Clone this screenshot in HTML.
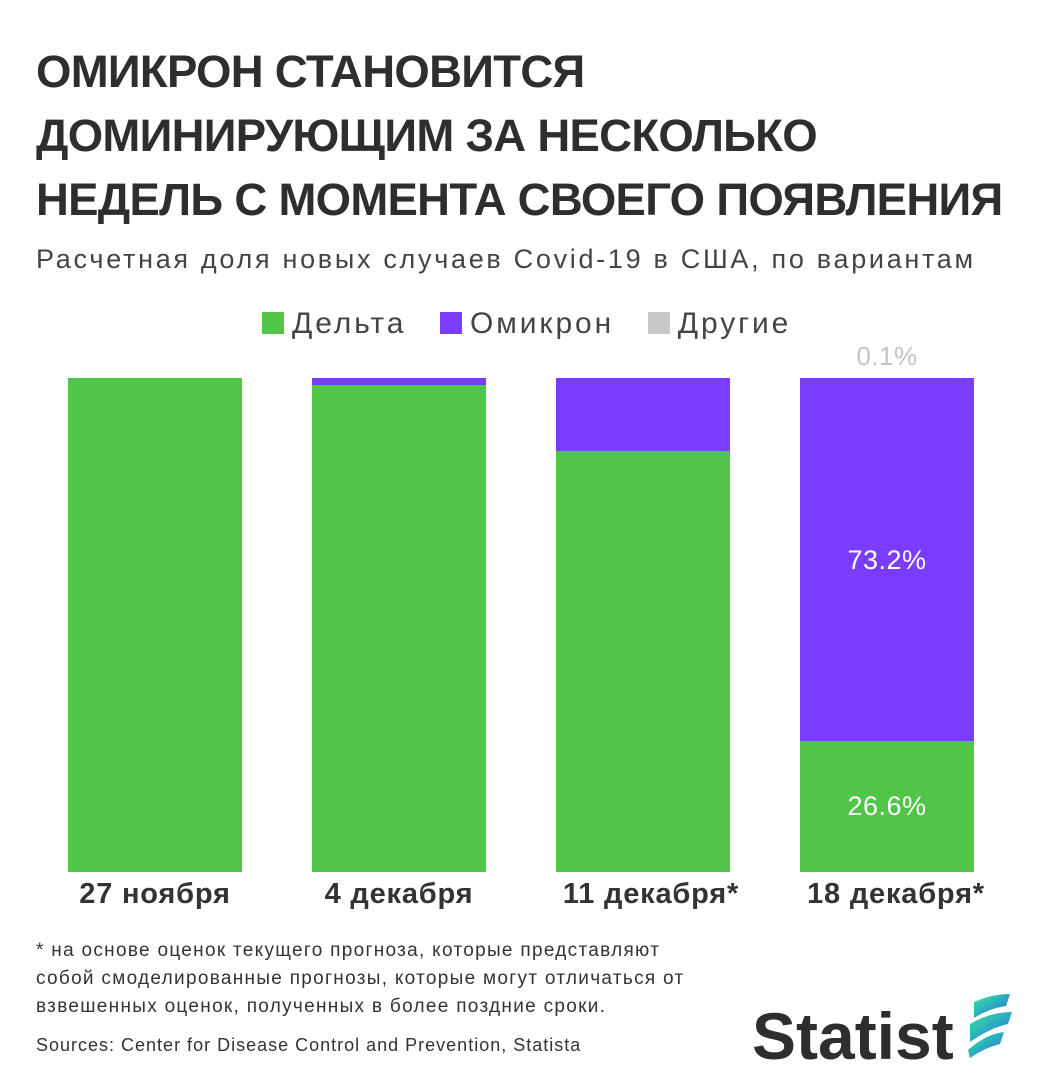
<!DOCTYPE html>
<html><head><meta charset="utf-8"><style>
body{margin:0;width:1047px;height:1080px;background:#fff;font-family:"Liberation Sans",sans-serif;color:#333;position:relative;overflow:hidden}
.a{position:absolute;white-space:nowrap}
.t{left:36px;font-size:45.5px;font-weight:bold;color:#2e2e2e;letter-spacing:-0.7px}
.bar{position:absolute;width:174px}
.g{background:#50c548}.p{background:#7a3cff}
.lab{font-size:29px;font-weight:bold;color:#333;text-align:center;width:260px;letter-spacing:0.8px}
.v{color:#fff;font-size:27px;text-align:center;width:174px;letter-spacing:0.5px}
.f{left:36px;font-size:19px;color:#333;letter-spacing:1.3px}
.sq{display:inline-block;width:22px;height:22px;vertical-align:-1px;margin-right:8px}
</style></head><body>
<div class="a t" style="top:46px">ОМИКРОН СТАНОВИТСЯ</div>
<div class="a t" style="top:110px">ДОМИНИРУЮЩИМ ЗА НЕСКОЛЬКО</div>
<div class="a t" style="top:174px">НЕДЕЛЬ С МОМЕНТА СВОЕГО ПОЯВЛЕНИЯ</div>
<div class="a" style="left:36px;top:244px;font-size:27px;color:#444;letter-spacing:2.7px">Расчетная доля новых случаев Covid-19 в США, по вариантам</div>
<div class="a" style="left:262px;top:307px;font-size:30px;color:#444;letter-spacing:2.9px"><span class="sq" style="background:#50c548"></span>Дельта&nbsp;&nbsp; <span class="sq" style="background:#7a3cff"></span>Омикрон&nbsp;&nbsp; <span class="sq" style="background:#c8c8c8"></span>Другие</div>
<div class="bar g" style="left:68px;top:378px;height:494px"></div>
<div class="bar p" style="left:312px;top:378px;height:7px"></div>
<div class="bar g" style="left:312px;top:385px;height:487px"></div>
<div class="bar p" style="left:556px;top:378px;height:73px"></div>
<div class="bar g" style="left:556px;top:451px;height:421px"></div>
<div class="bar p" style="left:800px;top:378px;height:363px"></div>
<div class="bar g" style="left:800px;top:741px;height:131px"></div>
<div class="a" style="left:800px;width:174px;text-align:center;top:341px;font-size:26px;color:#c4c4c4;letter-spacing:0.5px">0.1%</div>
<div class="a v" style="left:800px;top:545px">73.2%</div>
<div class="a v" style="left:800px;top:791px">26.6%</div>
<div class="a lab" style="left:25px;top:878px">27 ноября</div>
<div class="a lab" style="left:269px;top:878px">4 декабря</div>
<div class="a lab" style="left:521px;top:878px">11 декабря*</div>
<div class="a lab" style="left:766px;top:878px">18 декабря*</div>
<div class="a f" style="top:940px">* на основе оценок текущего прогноза, которые представляют</div>
<div class="a f" style="top:968px">собой смоделированные прогнозы, которые могут отличаться от</div>
<div class="a f" style="top:996px">взвешенных оценок, полученных в более поздние сроки.</div>
<div class="a f" style="top:1035px;font-size:18px;letter-spacing:1px">Sources: Center for Disease Control and Prevention, Statista</div>
<div class="a" style="left:752px;top:998px;font-size:66px;font-weight:bold;color:#2e2e2e;letter-spacing:0px">Statist</div>
<svg class="a" style="left:962px;top:992px" width="60" height="70" viewBox="0 0 60 70">
<defs><linearGradient id="gr" x1="0" y1="0" x2="1" y2="1"><stop offset="0" stop-color="#3ee6a0"/><stop offset="1" stop-color="#1a6fe0"/></linearGradient></defs>
<path d="M12 10 Q30 2 48 2 L44 14 Q28 16 12 26 Z" fill="url(#gr)"/>
<path d="M8 32 Q28 20 50 20 L46 32 Q28 36 8 50 Z" fill="url(#gr)"/>
<path d="M6 58 Q24 42 42 40 L38 52 Q22 56 8 66 Z" fill="url(#gr)"/>
</svg>
</body></html>
